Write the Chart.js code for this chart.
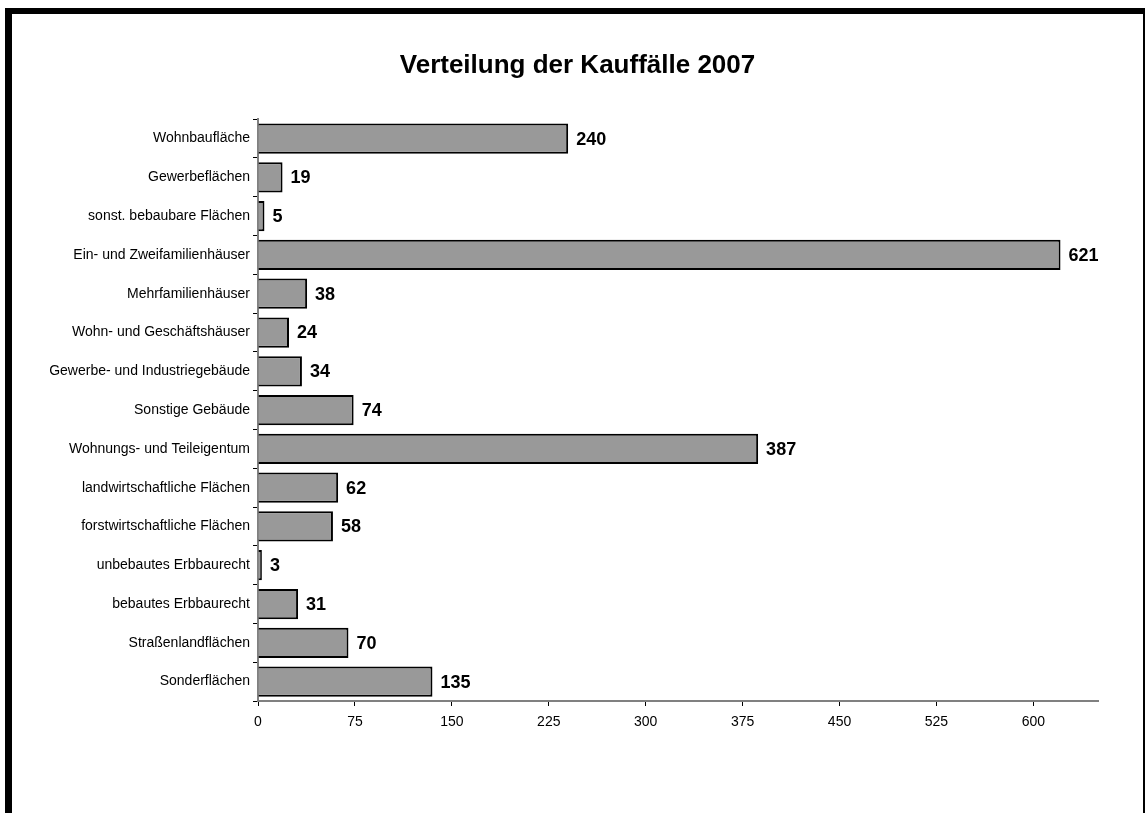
<!DOCTYPE html>
<html>
<head>
<meta charset="utf-8">
<script src="https://cdn.jsdelivr.net/npm/chart.js@4/dist/chart.umd.min.js"></script>
<style>
    body { margin: 0; background: #fff; }
    #rahmen {
        position: absolute; left: 5px; top: 8px;
        width: 1131px; height: 799px;
        border-left: 7px solid #000; border-top: 6px solid #000; border-right: 2px solid #000;
    }
</style>
</head>
<body>
<div id="rahmen"><canvas id="grafik" width="1131" height="799"></canvas></div>
<script>
// Kategorien und Anzahl der Kauffälle
const kategorien = [
    'Wohnbaufläche', 'Gewerbeflächen', 'sonst. bebaubare Flächen', 'Ein- und Zweifamilienhäuser',
    'Mehrfamilienhäuser', 'Wohn- und Geschäftshäuser', 'Gewerbe- und Industriegebäude', 'Sonstige Gebäude',
    'Wohnungs- und Teileigentum', 'landwirtschaftliche Flächen', 'forstwirtschaftliche Flächen',
    'unbebautes Erbbaurecht', 'bebautes Erbbaurecht', 'Straßenlandflächen', 'Sonderflächen'
];
const kauffaelle = [240, 19, 5, 621, 38, 24, 34, 74, 387, 62, 58, 3, 31, 70, 135];
const xTicks = [0, 75, 150, 225, 300, 375, 450, 525, 600];
const xMax = 650;

Chart.defaults.font.family = '"Liberation Sans", Arial, sans-serif';
Chart.defaults.color = '#000';

// Werte rechts neben die Balken schreiben
const wertePlugin = {
    id: 'werte',
    afterDatasetsDraw(chart) {
        const ctx = chart.ctx;
        ctx.save();
        ctx.font = 'bold 18px "Liberation Sans", Arial, sans-serif';
        ctx.fillStyle = '#000';
        ctx.textBaseline = 'middle';
        ctx.textAlign = 'left';
        chart.getDatasetMeta(0).data.forEach((bar, i) => {
            ctx.fillText(kauffaelle[i], bar.x + 8, bar.y + 1);
        });
        ctx.restore();
    }
};

new Chart(document.getElementById('grafik'), {
    type: 'bar',
    data: {
        labels: kategorien,
        datasets: [{
            data: kauffaelle,
            backgroundColor: '#999999',
            borderColor: '#000',
            borderWidth: 2,
            barPercentage: 0.78,
            categoryPercentage: 1
        }]
    },
    options: {
        indexAxis: 'y',
        responsive: false,
        animation: false,
        layout: { padding: 0 },
        plugins: {
            legend: { display: false },
            tooltip: { enabled: false },
            title: {
                display: true,
                text: 'Verteilung der Kauffälle 2007',
                font: { size: 26, weight: 'bold' },
                padding: { top: 36, bottom: 38 }
            }
        },
        scales: {
            x: {
                min: 0,
                max: xMax,
                afterBuildTicks: scale => { scale.ticks = xTicks.map(v => ({ value: v })); },
                afterFit: scale => { scale.height = 112; },
                ticks: { font: { size: 14 }, padding: 8 },
                grid: { drawOnChartArea: false, tickLength: 5, color: '#000' },
                border: { color: '#808080', width: 2 }
            },
            y: {
                afterFit: scale => { scale.width = 246; },
                ticks: { font: { size: 14 }, padding: 3 },
                grid: { drawOnChartArea: false, tickLength: 5, color: '#000', offset: true },
                border: { color: '#808080', width: 2 }
            },
            // leere Achse rechts als Abstand, damit der Titel über die ganze Breite zentriert bleibt
            rechts: {
                axis: 'y',
                position: 'right',
                afterFit: scale => { scale.width = 45; },
                ticks: { display: false },
                grid: { display: false },
                border: { display: false }
            }
        }
    },
    plugins: [wertePlugin]
});
</script>
</body>
</html>
